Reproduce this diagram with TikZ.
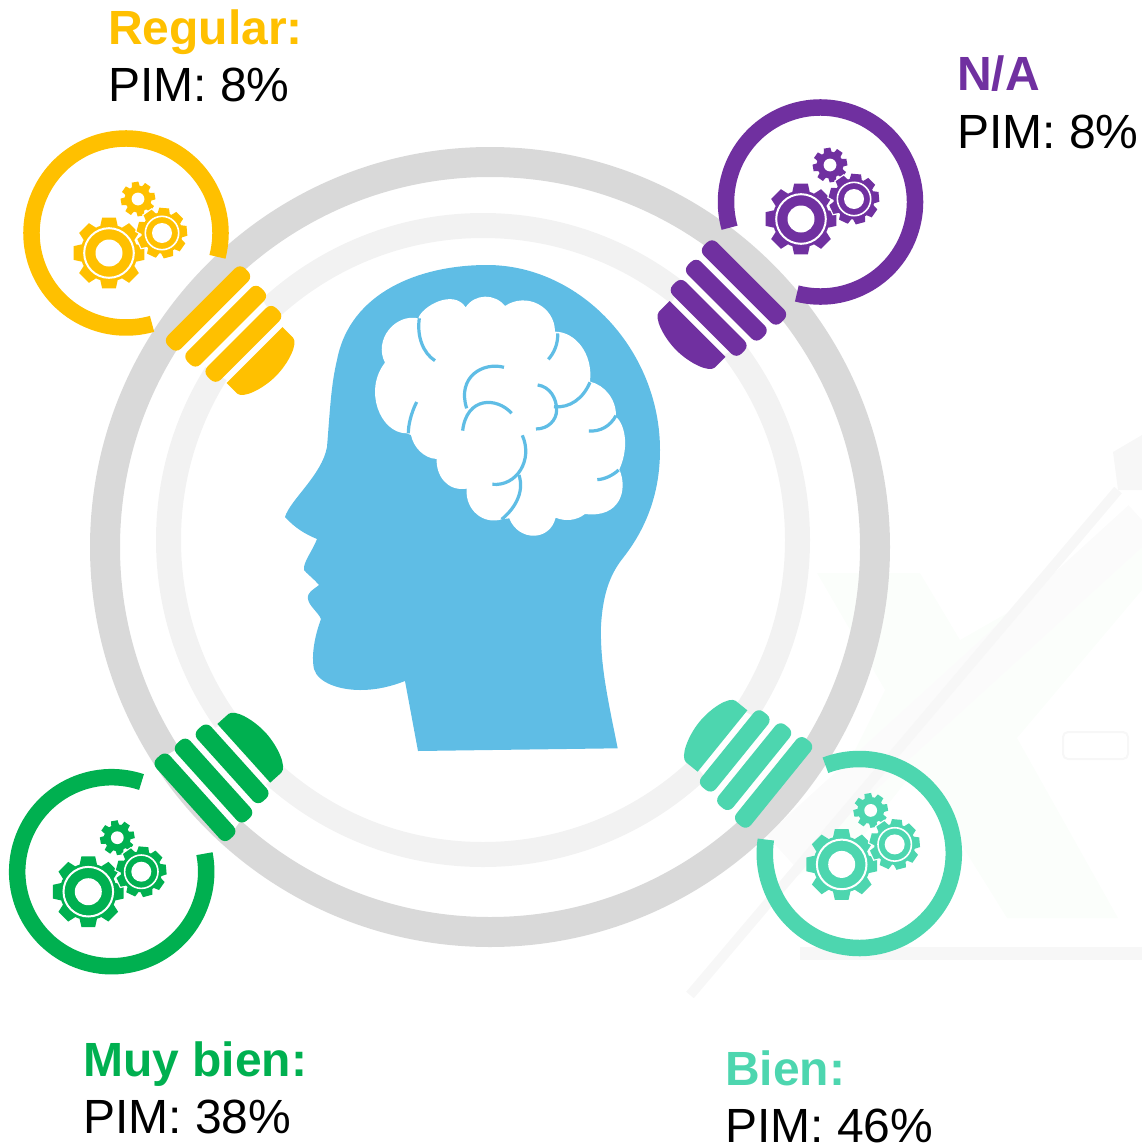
\documentclass[tikz,border=0pt]{standalone}
\usepackage{fontspec}
\setmainfont{Liberation Sans}
\definecolor{gold}{HTML}{FFC000}
\definecolor{violet}{HTML}{7030A0}
\definecolor{leaf}{HTML}{00B050}
\definecolor{mint}{HTML}{4DD6AF}
\definecolor{headblue}{HTML}{5FBDE5}
\definecolor{ghostgreen}{HTML}{FBFEFB}
\definecolor{ghostgrey}{HTML}{F7F7F7}
\newcommand{\wheelpath}[5]{% teeth, outer, root, phase, options
    \path[#5] (0,0) circle (#3)
        \foreach \k [evaluate=\k as \a using #4+\k*360/#1] in {1,...,#1}{
            (\a-19:#3-1) -- (\a-11:#2) -- (\a+11:#2) -- (\a+19:#3-1) -- cycle
        };
}
\tikzset{
    gears/.pic={
        \begin{scope}
            \wheelpath{8}{36}{28.5}{0}{pic actions}
            \draw[white, line width=2pt] (0,0) circle (24.8);
            \fill[white] (0,0) circle (13.5);
        \end{scope}
        \begin{scope}[shift={(29,54)}]
            \wheelpath{8}{17.5}{13.3}{10}{pic actions}
            \fill[white] (0,0) circle (6.4);
        \end{scope}
        \begin{scope}[shift={(53,20)}]
            \wheelpath{9}{25.5}{20.5}{5}{draw=white, fill=white, line width=2.5pt}
            \wheelpath{9}{25.5}{20.5}{5}{pic actions}
            \draw[white, line width=1.6pt] (0,0) circle (16.7);
            \fill[white] (0,0) circle (10);
        \end{scope}
    },
    plug/.pic={
        \fill[white] (-57,-50) -- (0,-37) -- (0,37) -- (-57,50) -- cycle;
        \fill[pic actions, rounded corners=7pt] (-75,-54.5) rectangle (-56.5,54.5);
        \fill[pic actions, rounded corners=7pt] (-50,-52) rectangle (-31.5,52);
        \fill[pic actions, rounded corners=7pt] (-25,-48.5) rectangle (-6.5,48.5);
        \fill[pic actions] (0,-39.5) -- (15,-39.5) .. controls (23,-39) and (30,-18) .. (30,0)
            .. controls (30,18) and (23,39) .. (15,39.5) -- (0,39.5) -- cycle;
    }
}
\begin{document}
\begin{tikzpicture}[
        x=1pt, y=1pt,
        outerring/.style={draw=black!15, line width=30pt},
        innerring/.style={draw=black!5, line width=25pt},
        dial/.style={line width=16.5pt},
        title/.style={anchor=base west, inner sep=0pt, text depth=0pt, font=\fontsize{48}{57}\selectfont\bfseries},
        value/.style={anchor=base west, inner sep=0pt, text depth=0pt, font=\fontsize{48}{57}\selectfont},
        sulcus/.style={draw=headblue, line width=3.2pt}
    ]
        \useasboundingbox (0,0) rectangle (1142,-1146);

        % faint backdrop
        \fill[ghostgreen] (817,-573) -- (920,-573) -- (960,-640) -- (1130,-543) -- (1142,-540)
            -- (1142,-590) -- (1017,-738) -- (1118,-918) -- (1007,-918) -- (915,-770) -- (860,-840)
            -- (790,-880) -- (885,-690) -- cycle;
        \draw[ghostgrey!50!white, line width=40pt] (780,-850) -- (1142,-520);
        \draw[ghostgrey, line width=10pt] (690,-995) -- (1118,-490);
        \fill[ghostgrey] (1113,-452) -- (1142,-435) -- (1142,-490) -- (1118,-490) -- cycle;
        \fill[ghostgrey] (800,-947) rectangle (1142,-960);
        \draw[ghostgrey, line width=2pt, rounded corners=5pt] (1063,-732) rectangle (1128,-759);

        \draw[outerring] (490,-547) circle (385);
        \draw[innerring] (483,-540) circle (314.5);

        % the four dials
        \draw[dial, gold] ([shift={(-14.6:94.5)}]126,-233) arc (-14.6:286:94.5);
        \draw[dial, violet] ([shift={(255.5:94.5)}]820.5,-202) arc (255.5:555.8:94.5);
        \draw[dial, leaf] ([shift={(71.6:94.5)}]111.7,-871.7) arc (71.6:371:94.5);
        \draw[dial, mint] ([shift={(171.5:94.5)}]859.3,-853.5) arc (171.5:471:94.5);

        \pic[fill=gold] at (109,-253) {gears};
        \pic[fill=violet] at (801,-219) {gears};
        \pic[fill=leaf] at (88.3,-891.7) {gears};
        \pic[fill=mint] at (841.7,-864.4) {gears};

        \pic[fill=gold, rotate=-45] at (254.5,-355) {plug};
        \pic[fill=violet, rotate=-135] at (697.5,-329) {plug};
        \pic[fill=leaf, rotate=42] at (243.8,-753.3) {plug};
        \pic[fill=mint, rotate=141] at (722.5,-741) {plug};

        % head
        \fill[headblue] (418,-751) -- (617.7,-748.3)
            .. controls (608,-700) and (600,-665) .. (601,-626)
            .. controls (603,-590) and (612,-572) .. (623,-558)
            .. controls (645,-530) and (660,-495) .. (660,-450)
            .. controls (660,-350) and (580,-265) .. (487,-265)
            .. controls (420,-265) and (350,-292) .. (337,-360)
            .. controls (331,-385) and (330,-410) .. (327,-447)
            .. controls (322,-475) and (290,-500) .. (285,-517)
            .. controls (295,-528) and (305,-534) .. (317,-539)
            .. controls (312,-552) and (303,-562) .. (304,-570)
            .. controls (306,-573) and (313,-578) .. (319,-585)
            .. controls (313,-590) and (307,-592) .. (308,-599)
            .. controls (309,-606) and (318,-612) .. (321,-619)
            .. controls (315,-635) and (311,-655) .. (314,-669)
            .. controls (318,-683) and (340,-690) .. (360,-690)
            .. controls (378,-690) and (392,-686) .. (405,-681)
            -- cycle;

        % brain, in crop coordinates
        \begin{scope}[shift={(280,-250)}, x=0.3333pt, y=-0.3333pt]
            \fill[white] (415,205)
                .. controls (425,170) and (520,115) .. (557,172)
                .. controls (585,130) and (645,130) .. (675,168)
                .. controls (740,125) and (825,170) .. (825,245)
                .. controls (885,245) and (940,310) .. (930,395)
                .. controls (975,405) and (1010,450) .. (1008,500)
                .. controls (1040,530) and (1045,600) .. (1018,658)
                .. controls (1045,720) and (1020,805) .. (915,792)
                .. controls (890,812) and (855,815) .. (827,803)
                .. controls (810,875) and (715,875) .. (688,805)
                -- (665,808)
                .. controls (610,825) and (555,780) .. (560,716)
                .. controls (500,725) and (468,675) .. (470,627)
                .. controls (430,625) and (400,590) .. (393,555)
                -- (380,550)
                .. controls (300,550) and (250,420) .. (315,338)
                .. controls (280,270) and (345,190) .. (415,205)
                -- cycle;
            \draw[sulcus] (418,205) .. controls (410,260) and (430,310) .. (465,332);
            \draw[sulcus] (833,250) .. controls (835,280) and (822,310) .. (805,328);
            \draw[sulcus] (672,352) .. controls (610,335) and (530,380) .. (560,475);
            \draw[sulcus] (695,490) .. controls (650,440) and (560,440) .. (548,542);
            \draw[sulcus] (773,405) .. controls (810,410) and (830,445) .. (830,480)
                .. controls (830,510) and (805,537) .. (768,537);
            \draw[sulcus] (930,397) .. controls (910,445) and (870,475) .. (822,470);
            \draw[sulcus] (1008,497) .. controls (990,530) and (960,545) .. (927,543);
            \draw[sulcus] (1016,660) .. controls (1000,675) and (975,688) .. (952,689);
            \draw[sulcus] (727,556) .. controls (760,630) and (710,710) .. (637,703);
            \draw[sulcus] (717,675) .. controls (735,730) and (700,780) .. (665,808);
            \draw[sulcus] (410,456) .. controls (393,490) and (385,525) .. (385,550);
        \end{scope}

        % labels
        \node[title, text=gold] (regular) at (108,-44) {Regular:};
        \node[value] (regularpim) at ([yshift=-57pt]regular.base west) {PIM: 8\%};
        \node[title, text=violet] (na) at (957,-90.5) {N/A};
        \node[value] (napim) at ([yshift=-57.5pt]na.base west) {PIM: 8\%};
        \node[title, text=leaf] (muybien) at (83,-1076) {Muy bien:};
        \node[value] (muybienpim) at ([yshift=-57pt]muybien.base west) {PIM: 38\%};
        \node[title, text=mint] (bien) at (725,-1085) {Bien:};
        \node[value] (bienpim) at ([yshift=-57pt]bien.base west) {PIM: 46\%};

    \end{tikzpicture}
\end{document}
